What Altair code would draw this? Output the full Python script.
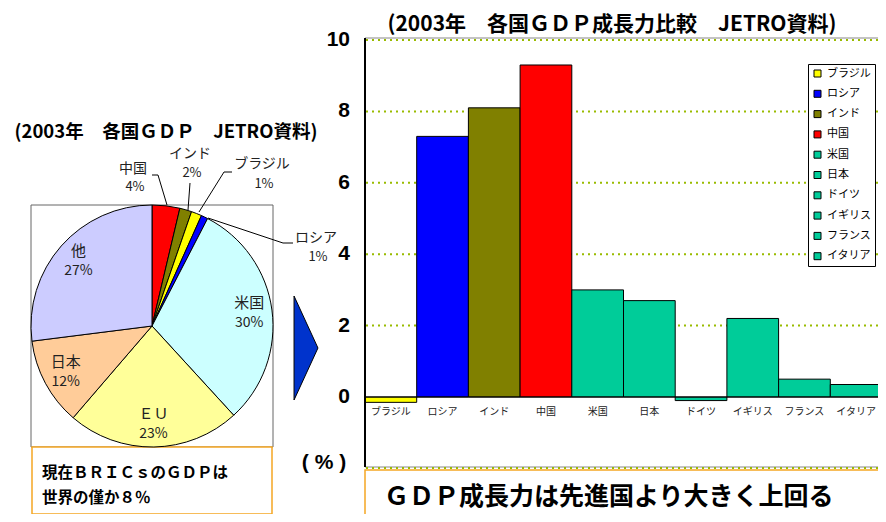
import altair as alt
import pandas as pd

# ---------------- data ----------------
pie_names = ["中国", "インド", "ブラジル", "ロシア", "米国", "ＥＵ", "日本", "他"]
pie_shares = [3.7, 1.6, 1.4, 0.9, 30.6, 23.1, 11.7, 27.0]
pie_labels = ["4%", "2%", "1%", "1%", "30%", "23%", "12%", "27%"]
pie_colors = ["#FF0000", "#808000", "#FFFF00", "#0000FF", "#CCFFFF", "#FFFF99", "#FFCC99", "#CCCCFF"]
pie_outside = ["中国", "インド", "ブラジル", "ロシア"]

bar_countries = ["ブラジル", "ロシア", "インド", "中国", "米国", "日本", "ドイツ", "イギリス", "フランス", "イタリア"]
bar_growth = [-0.15, 7.3, 8.1, 9.3, 3.0, 2.7, -0.1, 2.2, 0.5, 0.35]
bar_colors = ["#FFFF00", "#0000FF", "#808000", "#FF0000"] + ["#00CC99"] * 6
y_ticks = [0, 2, 4, 6, 8, 10]
grid_vals = [2, 4, 6, 8, 10]

pie_title = "(2003年　各国ＧＤＰ　JETRO資料)"
bar_title = "(2003年　各国ＧＤＰ成長力比較　JETRO資料)"
note_lines = ["現在ＢＲＩＣｓのＧＤＰは", "世界の僅か８％"]
bottom_text = "ＧＤＰ成長力は先進国より大きく上回る"
y_unit = "( % )"

# ---------------- frames ----------------
JP = "Noto Sans CJK JP"
one = pd.DataFrame({"k": [0]})

pie_df = pd.DataFrame({
    "idx": list(range(len(pie_names))),
    "name": pie_names,
    "share": pie_shares,
    "pct": pie_labels,
})
pie_df["inname"] = [("" if n in pie_outside else n) for n in pie_names]
pie_df["inpct"] = [("" if n in pie_outside else p) for n, p in zip(pie_names, pie_labels)]

bar_df = pd.DataFrame({"country": bar_countries, "growth": bar_growth})
tick_df = pd.DataFrame({"v": y_ticks})
grid_df = pd.DataFrame({"v": grid_vals})
zero_df = pd.DataFrame({"v": [0]})

PIE_CX, PIE_CY, PIE_R = 144, 318, 121
xs = alt.Scale(domain=bar_countries, range=[357, 874], paddingInner=0, paddingOuter=0)
ys = alt.Scale(domain=[0, 10], range=[389, 32], nice=False, zero=False)


def label(txt, x, y, size, weight="normal", align="center", font=JP, color="black"):
    return alt.Chart(one).mark_text(
        text=txt, fontSize=size, fontWeight=weight, align=align, font=font,
        color=color, baseline="middle"
    ).encode(x=alt.value(x), y=alt.value(y))


def seg(x1, y1, x2, y2, color="black", width=1, dash=None):
    kw = dict(color=color, strokeWidth=width)
    if dash:
        kw["strokeDash"] = dash
    return alt.Chart(one).mark_rule(**kw).encode(
        x=alt.value(x1), y=alt.value(y1), x2=alt.value(x2), y2=alt.value(y2))


def box(x1, y1, x2, y2, stroke, fill="white", width=1):
    return alt.Chart(one).mark_rect(fill=fill, stroke=stroke, strokeWidth=width).encode(
        x=alt.value(x1), x2=alt.value(x2), y=alt.value(y1), y2=alt.value(y2))


def solid(x1, y1, x2, y2, fill="black"):
    return alt.Chart(one).mark_rect(fill=fill).encode(
        x=alt.value(x1), x2=alt.value(x2), y=alt.value(y1), y2=alt.value(y2))


layers = []

# ---- left: pie ----
layers.append(label(pie_title, 158, 124, 18.5, "bold"))
layers.append(box(23, 197, 265, 439, "#666666"))
layers.append(box(24, 439, 264, 506, "#F5A623", width=1.5))
layers.append(label(note_lines[0], 34, 465, 15.5, "bold", "left"))
layers.append(label(note_lines[1], 34, 490, 15.5, "bold", "left"))

pie_base = alt.Chart(pie_df).encode(
    theta=alt.Theta("share:Q", stack=True),
    order=alt.Order("idx:Q"),
    x=alt.value(PIE_CX), y=alt.value(PIE_CY),
)
layers.append(pie_base.mark_arc(radius=PIE_R, stroke="black", strokeWidth=1).encode(
    fill=alt.Fill("name:N", scale=alt.Scale(domain=pie_names, range=pie_colors), legend=None)))
layers.append(pie_base.mark_text(radius=98, dy=-10, font=JP, fontSize=15, color="#222").encode(
    text="inname:N"))
layers.append(pie_base.mark_text(radius=98, dy=10, font=JP, fontSize=14, color="#222").encode(
    text="inpct:N"))

# outside labels and leader lines
outside_pos = {"中国": (125, 161, 179), "インド": (182, 146, 165),
               "ブラジル": (254, 156, 176), "ロシア": (308, 230, 249)}
for n, p in zip(pie_names, pie_labels):
    if n in outside_pos:
        x, y1, y2 = outside_pos[n]
        layers.append(label(n, x, y1, 14, color="#222"))
        layers.append(label(p, x + 2, y2, 13, color="#222"))
layers += [
    seg(144, 167, 150, 167), seg(150, 167, 159, 197),
    seg(182, 175, 180, 202),
    seg(216, 164, 224, 164), seg(216, 164, 191, 204),
    seg(200, 210, 275, 235), seg(275, 235, 285, 235),
]

# ---- arrow ----
layers.append(alt.Chart(one).mark_point(
    shape="M -0.23 -1 L 0.23 0 L -0.23 1 Z", size=104 * 104, filled=True,
    fill="#0033CC", stroke="black", strokeWidth=1, opacity=1
).encode(x=alt.value(298), y=alt.value(340)))

# ---- right: bar chart ----
layers.append(label(bar_title, 604, 17, 21, "bold"))
layers.append(box(357, 30, 875, 459, "#888888"))
layers.append(box(357, 462, 880, 520, "#F5A623", width=1.5))
layers.append(label(bottom_text, 376, 489, 25, "bold", "left"))

layers.append(alt.Chart(grid_df).mark_rule(color="#99BB00", strokeWidth=2, strokeDash=[2, 4]).encode(
    y=alt.Y("v:Q", scale=ys, axis=None), x=alt.value(358), x2=alt.value(874)))
layers.append(seg(358, 460, 874, 460, color="#99BB00", width=2, dash=[2, 4]))

layers.append(alt.Chart(bar_df).mark_bar(stroke="black", strokeWidth=1).encode(
    x=alt.X("country:N", scale=xs, sort=bar_countries, axis=None),
    y=alt.Y("growth:Q", scale=ys, axis=None),
    y2=alt.datum(0),
    color=alt.Color("country:N", sort=bar_countries,
                    scale=alt.Scale(domain=bar_countries, range=bar_colors),
                    legend=alt.Legend(
                        orient="none", legendX=800, legendY=56, title=None,
                        padding=4, strokeColor="black", fillColor="white",
                        symbolType="square", symbolSize=49, symbolStrokeColor="black",
                        symbolStrokeWidth=1, labelFontSize=11, labelFont=JP,
                        labelColor="black", rowPadding=8.3, labelOffset=4)),
))
layers.append(alt.Chart(zero_df).mark_rule(color="black", strokeWidth=1).encode(
    y=alt.Y("v:Q", scale=ys, axis=None), x=alt.value(357), x2=alt.value(874)))
layers.append(solid(356, 30, 358, 459))

layers.append(alt.Chart(tick_df).mark_text(
    align="right", baseline="middle", fontSize=21, fontWeight="bold", font="Liberation Sans"
).encode(y=alt.Y("v:Q", scale=ys, axis=None), x=alt.value(342), text="v:Q"))
layers.append(label(y_unit, 316, 455, 21, "bold", font="Liberation Sans"))

layers.append(alt.Chart(bar_df).mark_text(fontSize=10, font=JP, color="#222", baseline="middle").encode(
    x=alt.X("country:N", scale=xs, sort=bar_countries, axis=None),
    y=alt.value(404), text="country:N"))

chart = alt.layer(*layers).resolve_scale(x="independent", y="independent").properties(
    width=870, height=506, padding=0, autosize=alt.AutoSizeParams(type="none")
).configure_view(stroke=None)

chart.save("out.html", embed_options={"renderer": "svg", "actions": False})
